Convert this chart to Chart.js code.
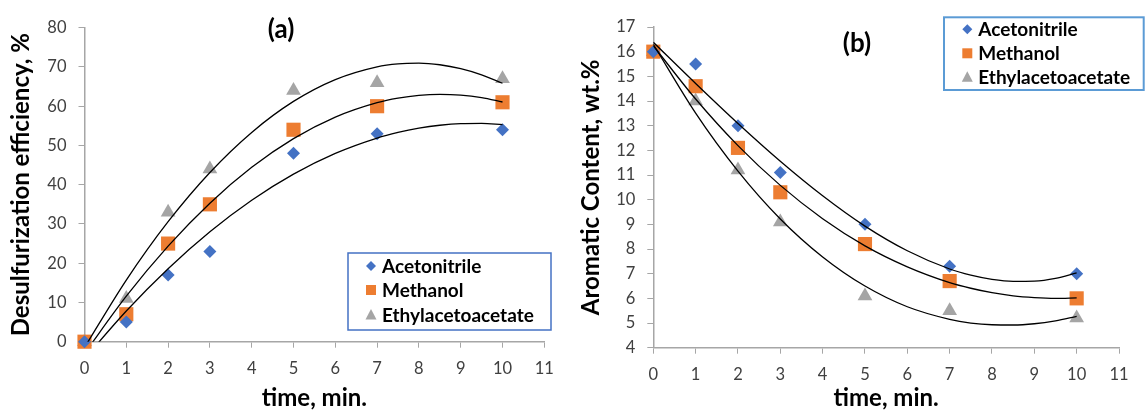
<!DOCTYPE html>
<html>
<head>
<meta charset="utf-8">
<script src="https://cdn.jsdelivr.net/npm/chart.js@4.4.1/dist/chart.umd.min.js"></script>
<style>
  body { margin: 0; background: #fff; }
  #wrap { display: flex; width: 1145px; height: 413px; }
  canvas { display: block; }
</style>
</head>
<body>
<div id="wrap">
  <canvas id="chartA" width="570" height="413"></canvas>
  <canvas id="chartB" width="575" height="413"></canvas>
</div>
<script>
const times = [0, 1, 2, 3, 5, 7, 10];
const solvents = ["Acetonitrile", "Methanol", "Ethylacetoacetate"];

// (a) desulfurization efficiency, %
const desulfAcetonitrile = [0, 5, 17, 23, 48, 53, 54];
const desulfMethanol = [0, 7, 25, 35, 54, 60, 61];
const desulfEthyl = [0, 11, 33, 44, 64, 66, 67];

// (b) aromatic content, wt.%
const aroAcetonitrile = [16, 15.5, 13, 11.1, 9, 7.3, 7];
const aroMethanol = [16, 14.6, 12.1, 10.3, 8.2, 6.7, 6];
const aroEthyl = [16, 14, 11.2, 9.1, 6.1, 5.5, 5.2];

// trend curves (denser near the turning points)
const trendTimes = [0, 1, 2, 3, 4, 5, 6, 7, 7.5, 8, 8.5, 9, 9.5, 10];
const trendDesulfAcetonitrile = [-4.34, 7.82, 18.6, 28.01, 36.04, 42.69, 47.97, 51.88, 53.31, 54.4, 55.15, 55.56, 55.62, 55.33];
const trendDesulfMethanol = [-2.97, 11.6, 24.35, 35.29, 44.42, 51.73, 57.23, 60.91, 62.07, 62.78, 63.03, 62.83, 62.18, 61.07];
const trendDesulfEthyl = [-1.48, 15.7, 30.57, 43.11, 53.32, 61.22, 66.79, 70.04, 70.79, 70.96, 70.56, 69.57, 68.0, 65.85];
const trendAroAcetonitrile = [16.38, 14.71, 13.09, 11.56, 10.16, 8.93, 7.93, 7.19, 6.94, 6.77, 6.69, 6.7, 6.81, 7.03];
const trendAroMethanol = [16.24, 14.08, 12.19, 10.58, 9.23, 8.13, 7.28, 6.64, 6.41, 6.23, 6.1, 6.03, 6.0, 6.02];
const trendAroEthyl = [16.3, 13.51, 11.16, 9.22, 7.68, 6.5, 5.66, 5.15, 5.0, 4.93, 4.92, 4.97, 5.09, 5.27];

const colors = ["#4472C4", "#ED7D31", "#A5A5A5"];
const markerStyles = ["rectRot", "rect", "triangle"];
const markerRadius = [6.5, 10, 8.5];

const fontFamily = "Lato, 'Open Sans', sans-serif";
const tickFont = { family: fontFamily, size: 16.5 };
const titleFont = { family: fontFamily, size: 24, weight: "bold" };
const axisColor = "#a6a6a6";

function pointSet(i, ys) {
  return {
    label: solvents[i],
    data: times.map((t, k) => ({ x: t, y: ys[k] })),
    showLine: false,
    pointStyle: markerStyles[i],
    pointRadius: markerRadius[i],
    pointHoverRadius: markerRadius[i],
    pointBackgroundColor: colors[i],
    pointBorderWidth: 0,
    clip: false,
    order: 1,
  };
}

function trendSet(ys) {
  return {
    data: trendTimes.map((t, k) => ({ x: t, y: ys[k] })),
    showLine: true,
    borderColor: "#000",
    borderWidth: 1.3,
    pointRadius: 0,
    cubicInterpolationMode: "monotone",
    order: 0,
  };
}

// draws the panel label and the boxed legend
const overlay = {
  id: "overlay",
  afterDraw(chart, args, o) {
    const ctx = chart.ctx;
    ctx.save();
    ctx.fillStyle = "#000";
    ctx.textAlign = "center";
    ctx.textBaseline = "middle";
    ctx.font = "bold 26px " + fontFamily;
    ctx.fillText(o.label, o.labelX, o.labelY);

    ctx.strokeStyle = o.boxColor;
    ctx.lineWidth = o.boxLine;
    ctx.strokeRect(o.box[0], o.box[1], o.box[2], o.box[3]);

    ctx.textAlign = "left";
    ctx.font = "bold 19px " + fontFamily;
    solvents.forEach((name, i) => {
      const x = o.markerX;
      const y = o.rows[i];
      ctx.fillStyle = colors[i];
      ctx.beginPath();
      if (i === 0) {
        ctx.moveTo(x - 5, y);
        ctx.lineTo(x, y - 5);
        ctx.lineTo(x + 5, y);
        ctx.lineTo(x, y + 5);
      } else if (i === 1) {
        ctx.rect(x - 5, y - 5, 10, 10);
      } else {
        ctx.moveTo(x, y - 6);
        ctx.lineTo(x + 5.5, y + 4.5);
        ctx.lineTo(x - 5.5, y + 4.5);
      }
      ctx.closePath();
      ctx.fill();
      ctx.fillStyle = "#000";
      ctx.fillText(name, o.textX, y + 1);
    });
    ctx.restore();
  },
};

function makeChart(id, cfg) {
  return new Chart(document.getElementById(id), {
    type: "scatter",
    data: {
      datasets: [
        trendSet(cfg.trends[0]),
        trendSet(cfg.trends[1]),
        trendSet(cfg.trends[2]),
        pointSet(0, cfg.values[0]),
        pointSet(1, cfg.values[1]),
        pointSet(2, cfg.values[2]),
      ],
    },
    options: {
      responsive: false,
      animation: false,
      layout: { padding: { left: 0, right: cfg.padRight, top: cfg.padTop, bottom: 0 } },
      scales: {
        x: {
          type: "linear",
          min: 0,
          max: 11,
          ticks: { stepSize: 1, font: tickFont, color: "#404040", padding: 11 },
          grid: { drawOnChartArea: false, tickLength: 6, color: axisColor, lineWidth: 1 },
          border: { color: axisColor, width: 1.5 },
          title: { display: true, text: "time, min.", font: titleFont, color: "#000", padding: { top: 0, bottom: 0 } },
          afterFit: (s) => { s.height = cfg.xHeight; },
        },
        y: {
          type: "linear",
          min: cfg.yMin,
          max: cfg.yMax,
          ticks: { stepSize: cfg.yStep, font: tickFont, color: "#404040", padding: 12 },
          grid: { drawOnChartArea: false, tickLength: 6, color: axisColor, lineWidth: 1 },
          border: { color: axisColor, width: 1.5 },
          title: { display: true, text: cfg.yTitle, font: titleFont, color: "#000", padding: { top: 7, bottom: 0 } },
          afterFit: (s) => { s.width = cfg.yWidth; },
        },
      },
      plugins: {
        legend: { display: false },
        tooltip: { enabled: false },
        overlay: cfg.overlay,
      },
    },
    plugins: [overlay],
  });
}

makeChart("chartA", {
  values: [desulfAcetonitrile, desulfMethanol, desulfEthyl],
  trends: [trendDesulfAcetonitrile, trendDesulfMethanol, trendDesulfEthyl],
  yMin: 0, yMax: 80, yStep: 10,
  yTitle: "Desulfurization efficiency, %",
  yWidth: 84.5, xHeight: 71.3, padRight: 25.7, padTop: 27.7,
  overlay: {
    label: "(a)", labelX: 281, labelY: 30,
    box: [348, 253, 203, 77], boxColor: "#4472C4", boxLine: 1.5,
    markerX: 371, textX: 382, rows: [266, 290, 315],
  },
});

makeChart("chartB", {
  values: [aroAcetonitrile, aroMethanol, aroEthyl],
  trends: [trendAroAcetonitrile, trendAroMethanol, trendAroEthyl],
  yMin: 4, yMax: 17, yStep: 1,
  yTitle: "Aromatic Content, wt.%",
  yWidth: 83.3, xHeight: 65.3, padRight: 26, padTop: 27,
  overlay: {
    label: "(b)", labelX: 287, labelY: 44,
    box: [374, 17.3, 199.7, 72.7], boxColor: "#5B9BD5", boxLine: 2,
    markerX: 397.3, textX: 408.3, rows: [29.3, 53.3, 77.3],
  },
});
</script>
</body>
</html>
